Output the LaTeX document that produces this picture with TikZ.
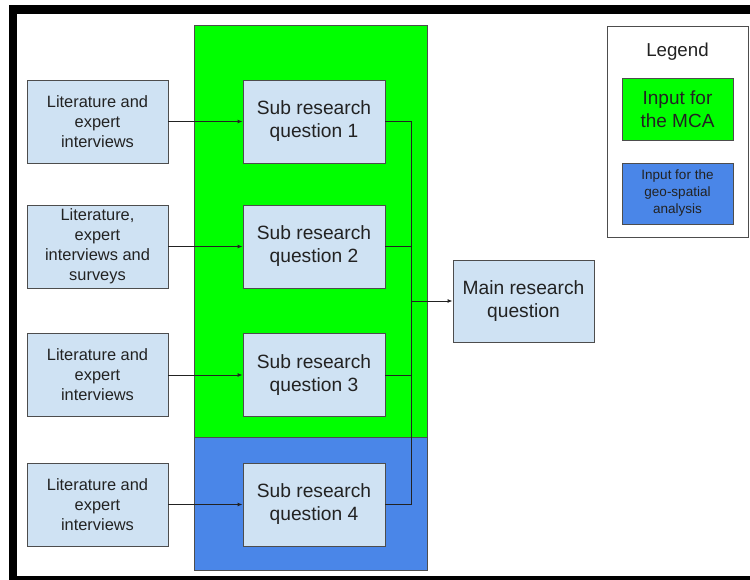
\documentclass[tikz,border=0pt]{standalone}
\usepackage{fontspec}
\setmainfont{Liberation Sans}
\usetikzlibrary{arrows.meta}
\definecolor{mcagreen}{HTML}{00FF00}
\definecolor{geoblue}{HTML}{4A86E8}
\definecolor{boxblue}{HTML}{CFE2F3}
\definecolor{edgegray}{HTML}{4D4D4D}
\definecolor{inkgray}{HTML}{222222}
\begin{document}
\begin{tikzpicture}[x=1pt, y=-1pt,
  every node/.style={text=inkgray},
  srcbox/.style={draw=edgegray, fill=boxblue, line width=0.9pt, minimum width=141pt, minimum height=83pt, align=center, font=\fontsize{16.4}{20}\selectfont},
  subbox/.style={draw=edgegray, fill=boxblue, line width=0.9pt, minimum width=142pt, minimum height=83pt, align=center, font=\fontsize{19.2}{23}\selectfont},
  keybox/.style={draw=edgegray, line width=0.8pt, minimum width=111pt, align=center},
  link/.style={draw=inkgray, line width=0.9pt},
  feed/.style={link, -{Latex[length=5pt,width=4pt]}}]
  \useasboundingbox (0,0) rectangle (750,580);
  % outer frame
  \fill[black] (9,5) rectangle (760,590);
  \fill[white] (17,14) rectangle (755,576);
  % input columns
  \draw[edgegray, fill=mcagreen, line width=0.8pt] (194,25) rectangle (427,437);
  \draw[edgegray, fill=geoblue, line width=0.8pt] (194,437) rectangle (427,570);
  % sources
  \node[srcbox] (src1) at (97.5,121.5) {Literature and\\expert\\interviews};
  \node[srcbox] (src2) at (97.5,246.5) {Literature,\\expert\\interviews and\\surveys};
  \node[srcbox] (src3) at (97.5,375) {Literature and\\expert\\interviews};
  \node[srcbox] (src4) at (97.5,504.5) {Literature and\\expert\\interviews};
  % sub questions
  \node[subbox] (sub1) at (314,121.5) {Sub research\\question 1};
  \node[subbox] (sub2) at (314,246.5) {Sub research\\question 2};
  \node[subbox] (sub3) at (314,375) {Sub research\\question 3};
  \node[subbox] (sub4) at (314,504.5) {Sub research\\question 4};
  \node[subbox, minimum width=141pt, minimum height=82pt] (main) at (523.5,301) {Main research\\question};
  \coordinate (join) at (411,301);
  \foreach \i in {1,...,4} {
    \draw[feed] (src\i.east) -- (sub\i.west);
    \draw[link] (sub\i.east) -| (join);
  }
  \draw[feed] (join) -- (main.west);
  % legend
  \draw[edgegray, fill=white, line width=0.8pt] (607,26) rectangle (748,237);
  \node[font=\fontsize{18.7}{22}\selectfont] (legtitle) at (677.5,52) {Legend};
  \node[keybox, fill=mcagreen, minimum height=62pt, font=\fontsize{19}{23}\selectfont] (keymca) at (677.5,109) {Input for\\the MCA};
  \node[keybox, fill=geoblue, minimum height=61pt, font=\fontsize{13.5}{17}\selectfont] (keygeo) at (677.5,193.5) {Input for the\\geo-spatial\\analysis};
\end{tikzpicture}
\end{document}
